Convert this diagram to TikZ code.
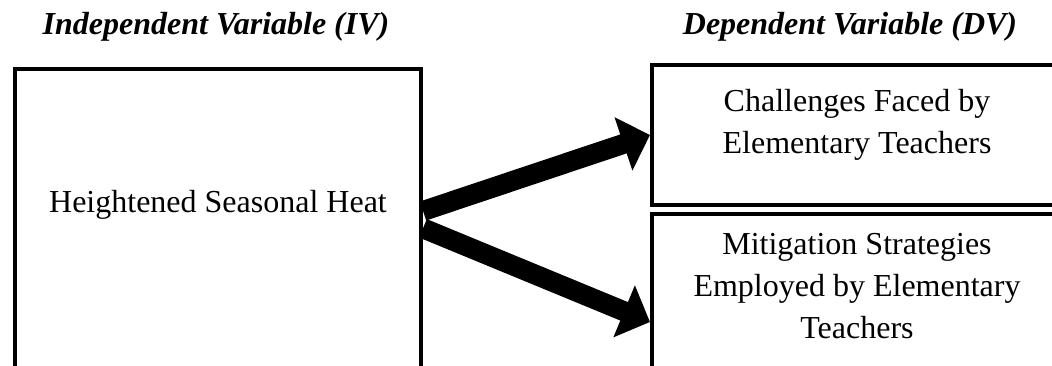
\documentclass[tikz,border=0pt]{standalone}
\usepackage{fontspec}
\setmainfont{Liberation Serif}
\usetikzlibrary{arrows.meta}

\begin{document}
\begin{tikzpicture}[
  x = 0.75pt, y = -0.75pt,
  box/.style = {rectangle, draw, line width=3pt, minimum width=307.5pt},
  txt/.style = {inner sep=0pt, align=center,
                font=\fontsize{24pt}{31.5pt}\selectfont},
  head/.style = {inner sep=0pt,
                 font=\fontsize{24pt}{29pt}\selectfont\bfseries\itshape},
  link/.style = {line width=15pt, -{Triangle[length=21pt, width=41pt]}}
]
\useasboundingbox (0,0) rectangle (1052,366);
\clip (0,0) rectangle (1052,366);

% headings
\node[head, anchor=base] (ivhead) at (216,35) {Independent Variable (IV)};
\node[head, anchor=base] (dvhead) at (850,35) {Dependent Variable (DV)};

% boxes
\node[box, minimum width=304.5pt, minimum height=225pt] (iv) at (218,219) {};
\node[box, minimum height=105pt] (dv1) at (857,135) {};
\node[box, minimum height=162pt] (dv2) at (857,322) {};

% texts
\node[txt, anchor=base] (heat) at (218,213) {Heightened Seasonal Heat};
\node[txt, anchor=north] (chal) at (857,89) {Challenges Faced by\\Elementary Teachers};
\node[txt, anchor=north] (miti) at (857,233) {Mitigation Strategies\\Employed by Elementary\\Teachers};

% arrows
\draw[link] ([yshift=6pt]iv.east) -- (dv1.west);
\draw[link] ([yshift=-7pt]iv.east) -- (dv2.west);
\end{tikzpicture}
\end{document}
